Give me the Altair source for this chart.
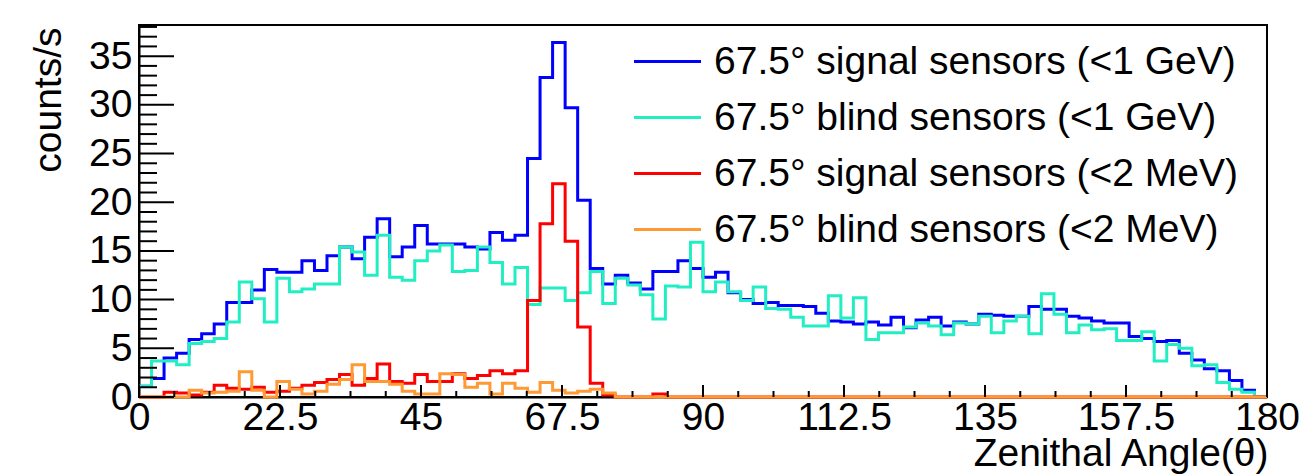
import altair as alt
import pandas as pd

# ---------------- data ----------------
bin_width = 2.0
series_names = [
    "67.5° signal sensors (<1 GeV)",
    "67.5° blind sensors (<1 GeV)",
    "67.5° signal sensors (<2 MeV)",
    "67.5° blind sensors (<2 MeV)",
]
series_colors = ["#0000FF", "#22EEC4", "#FF0000", "#FF9933"]

signal_1gev = [1.1, 1.9, 4.0, 4.5, 5.9, 6.5, 7.5, 9.7, 9.7, 11.0,
               13.1, 12.8, 12.8, 14.0, 13.0, 14.5, 15.4, 14.2, 16.4, 18.3,
               14.4, 15.4, 17.6, 15.7, 15.7, 15.7, 15.4, 15.2, 16.9, 16.1,
               16.6, 24.5, 32.8, 36.4, 29.7, 20.2, 13.2, 11.6, 12.5, 11.7,
               11.1, 12.9, 12.9, 14.0, 13.2, 12.3, 12.8, 10.7, 10.0, 9.6,
               9.7, 9.4, 9.4, 9.3, 8.6, 7.8, 7.7, 7.5, 7.7, 7.4,
               8.2, 7.1, 7.9, 8.2, 7.3, 7.7, 7.5, 8.5, 8.4, 8.3,
               8.3, 9.3, 9.0, 9.0, 8.3, 8.1, 7.8, 7.6, 7.6, 6.2,
               6.0, 5.7, 5.8, 4.5, 3.8, 2.9, 2.7, 1.7, 0.7, 0.0]

blind_1gev = [1.1, 3.7, 3.7, 3.3, 5.5, 5.7, 6.0, 7.7, 11.8, 10.1,
              7.7, 12.2, 10.8, 11.1, 11.6, 11.6, 15.4, 14.9, 12.5, 16.6,
              12.3, 12.0, 14.0, 15.0, 15.6, 12.9, 13.0, 15.4, 13.8, 11.6,
              13.3, 9.5, 11.2, 11.2, 9.9, 10.7, 12.9, 9.6, 12.2, 11.5,
              10.5, 8.0, 11.4, 11.3, 15.9, 10.8, 11.8, 10.8, 9.9, 11.3,
              9.1, 9.0, 8.2, 7.3, 7.3, 10.4, 8.1, 10.2, 5.9, 6.6,
              6.6, 7.2, 7.6, 7.3, 6.4, 7.6, 7.5, 8.3, 6.6, 7.8,
              8.3, 6.5, 10.6, 8.5, 6.6, 7.4, 6.9, 7.0, 5.8, 5.8,
              6.7, 3.7, 5.4, 5.0, 3.2, 3.3, 1.5, 0.8, 0.5, 0.0]

signal_2mev = [0.0, 0.0, 0.5, 0.4, 0.2, 0.5, 1.2, 0.9, 0.8, 1.0,
               0.5, 0.6, 0.9, 1.2, 1.5, 1.8, 2.3, 1.2, 1.9, 3.4,
               1.6, 1.4, 2.3, 1.6, 1.6, 2.4, 1.9, 2.2, 2.7, 2.4,
               2.7, 9.9, 17.8, 21.9, 16.0, 7.2, 1.4, 0.2, 0.0, 0.0,
               0.0, 0.3, 0.0, 0.0, 0.0, 0.0, 0.0, 0.0, 0.0, 0.0,
               0.0, 0.0, 0.0, 0.0, 0.0, 0.0, 0.0, 0.0, 0.0, 0.0,
               0.0, 0.0, 0.0, 0.0, 0.0, 0.0, 0.0, 0.0, 0.0, 0.0,
               0.0, 0.0, 0.0, 0.0, 0.0, 0.0, 0.0, 0.0, 0.0, 0.0,
               0.0, 0.0, 0.0, 0.0, 0.0, 0.0, 0.0, 0.0, 0.0, 0.0]

blind_2mev = [0.0, 0.0, 0.0, 0.0, 0.7, 0.4, 0.5, 0.6, 2.6, 0.7,
              0.0, 1.6, 0.8, 0.3, 0.6, 1.3, 1.8, 3.3, 1.6, 1.6,
              1.3, 0.6, 0.3, 0.3, 2.4, 2.3, 1.0, 1.4, 0.3, 1.4,
              0.9, 0.5, 1.5, 0.7, 0.4, 0.6, 0.8, 0.4, 0.0, 0.0,
              0.0, 0.0, 0.0, 0.0, 0.0, 0.0, 0.0, 0.0, 0.0, 0.0,
              0.0, 0.0, 0.0, 0.0, 0.0, 0.0, 0.0, 0.0, 0.0, 0.0,
              0.0, 0.0, 0.0, 0.0, 0.0, 0.0, 0.0, 0.0, 0.0, 0.0,
              0.0, 0.0, 0.0, 0.0, 0.0, 0.0, 0.0, 0.0, 0.0, 0.0,
              0.0, 0.0, 0.0, 0.0, 0.0, 0.0, 0.0, 0.0, 0.0, 0.0]

x_major = [0, 22.5, 45, 67.5, 90, 112.5, 135, 157.5, 180]
x_minor = [i * 5.625 for i in range(33) if i % 4 != 0]
y_major = [0, 5, 10, 15, 20, 25, 30, 35]
y_minor = [v for v in range(0, 39) if v % 5 != 0]

# ---------------- build tables ----------------
rows = []
for name, vals in zip(series_names, [signal_1gev, blind_1gev, signal_2mev, blind_2mev]):
    ys = list(vals) + [vals[-1]]
    for i, y in enumerate(ys):
        rows.append({"angle": i * bin_width, "rate": y, "series": name, "idx": i})
hist = pd.DataFrame(rows)

FONT = "Liberation Sans"
W, H = 1128, 372

x_scale = alt.Scale(domain=[0, 180], nice=False, zero=False)
y_scale = alt.Scale(domain=[0, 38.2], nice=False, zero=True)
color_scale = alt.Scale(domain=series_names, range=series_colors)

x_axis = alt.Axis(
    title="Zenithal Angle(θ)", values=x_major, labelExpr="'' + datum.value", ticks=False, tickSize=0,
    grid=False, labelFontSize=39, labelFont=FONT, labelColor="black", labelPadding=1,
    labelFlush=False, labelOverlap=False, labelBound=False, domainColor="black", domainWidth=2,
    titleFontSize=39, titleFont=FONT, titleFontWeight="normal", titleColor="black",
    titleAlign="right", titleAnchor="end", titleX=W + 1, titleY=68, titleBaseline="alphabetic",
)
y_axis = alt.Axis(
    title="counts/s", values=y_major, format="d", ticks=False, tickSize=0,
    grid=False, labelFontSize=39, labelFont=FONT, labelColor="black", labelPadding=7,
    labelOverlap=False, labelBound=False, domainColor="black", domainWidth=2,
    titleFontSize=39, titleFont=FONT, titleFontWeight="normal", titleColor="black",
    titleAngle=270, titleAlign="right", titleX=-79, titleY=2, titleBaseline="alphabetic",
)
legend = alt.Legend(
    title=None, orient="none", legendX=509, legendY=17, direction="vertical",
    symbolType="M-2,0H2", symbolSize=1122, symbolStrokeWidth=3,
    labelFontSize=39, labelFont=FONT, labelColor="black", labelOffset=27,
    labelLimit=800, rowPadding=16, padding=0,
)

layers = []
for name in series_names:
    layers.append(
        alt.Chart(hist)
        .transform_filter(alt.datum.series == name)
        .mark_line(interpolate="step-after", strokeWidth=3)
        .encode(
            x=alt.X("angle:Q", scale=x_scale, axis=x_axis),
            y=alt.Y("rate:Q", scale=y_scale, axis=y_axis),
            color=alt.Color("series:N", scale=color_scale, legend=legend),
            order=alt.Order("idx:Q"),
        )
    )

# ROOT-style inward ticks
ytick_major = alt.Chart(pd.DataFrame({"rate": y_major})).mark_rule(color="black", strokeWidth=2).encode(
    y=alt.Y("rate:Q", scale=y_scale, axis=y_axis), x=alt.value(0), x2=alt.value(35))
ytick_minor = alt.Chart(pd.DataFrame({"rate": y_minor})).mark_rule(color="black", strokeWidth=2).encode(
    y=alt.Y("rate:Q", scale=y_scale, axis=y_axis), x=alt.value(0), x2=alt.value(18))
xtick_major = alt.Chart(pd.DataFrame({"angle": x_major})).mark_rule(color="black", strokeWidth=2).encode(
    x=alt.X("angle:Q", scale=x_scale, axis=x_axis), y=alt.value(H), y2=alt.value(H - 12))
xtick_minor = alt.Chart(pd.DataFrame({"angle": x_minor})).mark_rule(color="black", strokeWidth=2).encode(
    x=alt.X("angle:Q", scale=x_scale, axis=x_axis), y=alt.value(H), y2=alt.value(H - 6))

chart = (
    alt.layer(*layers, ytick_major, ytick_minor, xtick_major, xtick_minor)
    .properties(
        width=W, height=H,
        autosize=alt.AutoSizeParams(type="none"),
        padding={"left": 131, "top": 17, "right": 36, "bottom": 77},
        background="white",
    )
    .configure(font=FONT)
    .configure_view(stroke="black", strokeWidth=2)
)

chart.save("out.html", embed_options={"renderer": "svg", "actions": False})
